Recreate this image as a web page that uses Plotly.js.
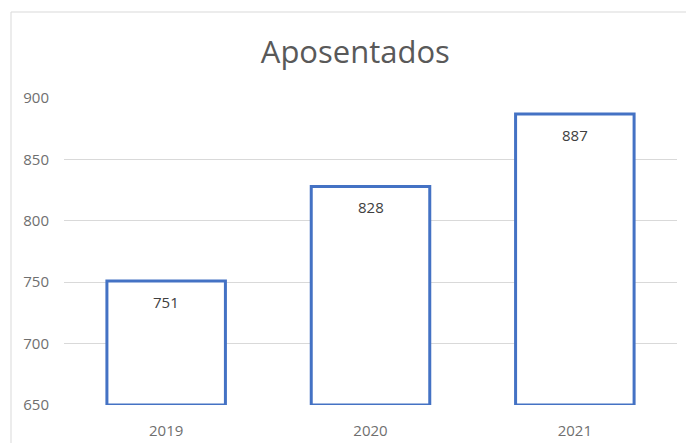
<!DOCTYPE html>
<html><head><meta charset="utf-8">
<script src="https://cdn.plot.ly/plotly-3.0.1.min.js"></script>
<style>html,body{margin:0;padding:0;background:#fff;}#chart{width:686px;height:443px;}</style>
</head><body><div id="chart"></div>
<script>
const years = ['2019', '2020', '2021'];
const aposentados = [751, 828, 887];
const yTicks = [650, 700, 750, 800, 850, 900];
const axisMin = 650;

const trace = {
  type: 'bar', x: years, y: aposentados.map(v => v - axisMin), base: axisMin,
  marker: {color: '#ffffff', line: {color: '#4472C4', width: 3}},
  hoverinfo: 'x', showlegend: false
};
const annotations = years.map((yr, i) => ({
  x: i, y: aposentados[i], xref: 'x', yref: 'y', text: String(aposentados[i]),
  showarrow: false, yanchor: 'top', yshift: -9,
  font: {family: 'Open Sans, sans-serif', size: 15, color: '#404040'}
}));
const layout = {
  width: 686, height: 443,
  margin: {l: 64, r: 9, t: 98, b: 38},
  paper_bgcolor: '#ffffff', plot_bgcolor: '#ffffff',
  title: {text: 'Aposentados', x: 0.518, xanchor: 'center', y: 0.883, yanchor: 'middle',
    font: {family: 'Open Sans, sans-serif', size: 31, color: '#595959'}},
  bargap: 0.42,
  xaxis: {type: 'category', categoryorder: 'array', categoryarray: years, range: [-0.5, 2.5],
    showgrid: false, zeroline: false, showline: false, ticks: '',
    ticklabelstandoff: 15, tickfont: {family: 'Open Sans, sans-serif', size: 15, color: '#6f6f6f'}},
  yaxis: {range: [650, 900], tickvals: yTicks, ticktext: yTicks.map(String),
    showgrid: true, gridcolor: '#d9d9d9', gridwidth: 1, zeroline: false, showline: false, ticks: '',
    ticklabelstandoff: 14, tickfont: {family: 'Open Sans, sans-serif', size: 15, color: '#6f6f6f'}},
  annotations: annotations,
  shapes: [
    {type: 'line', xref: 'paper', yref: 'paper', x0: -53/613, x1: 1.2, y0: 1 + 86/307, y1: 1 + 86/307,
      line: {color: '#d9d9d9', width: 1}},
    {type: 'line', xref: 'paper', yref: 'paper', x0: -53/613, x1: -53/613, y0: -0.2, y1: 1 + 86/307,
      line: {color: '#d9d9d9', width: 1}}
  ]
};
Plotly.newPlot('chart', [trace], layout, {displayModeBar: false, staticPlot: true});
</script></body></html>
